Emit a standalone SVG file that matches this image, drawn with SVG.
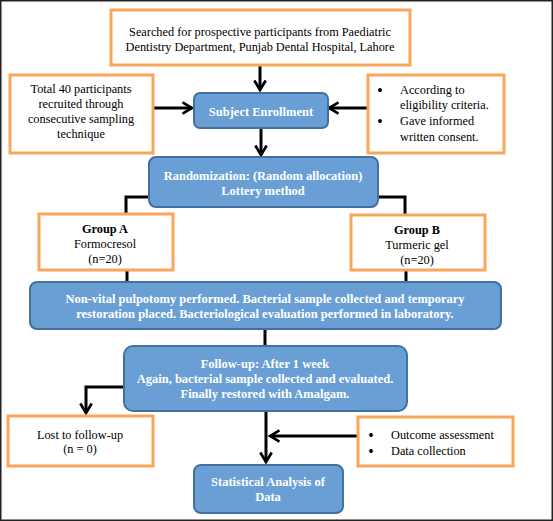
<svg xmlns="http://www.w3.org/2000/svg" width="553" height="521" viewBox="0 0 553 521">
<defs>
<marker id="ah" viewBox="0 0 10 10" refX="8.5" refY="5" markerWidth="4.5" markerHeight="4.5" orient="auto" markerUnits="strokeWidth">
<polyline points="1.5,0.8 8.5,5 1.5,9.2" fill="none" stroke="#000" stroke-width="2"/>
</marker>
<style>
.ob{fill:#fff;stroke:#F9A65A;stroke-width:3}
.bb{fill:#6A9FD6;stroke:#41719C;stroke-width:2}
text{font-family:'Liberation Serif','Times New Roman',Times,'DejaVu Serif',serif}
.t{font-size:12.3px;fill:#000;text-anchor:middle}
.tl{font-size:12.3px;fill:#000}
.bu{font-size:14px;font-weight:bold;fill:#000;text-anchor:middle}
.w{font-size:12.5px;font-weight:bold;fill:#fff;text-anchor:middle}
.c{fill:none;stroke:#000;stroke-width:3}
</style>
</defs>
<rect x="0.75" y="0.75" width="551.5" height="519.5" fill="#fff" stroke="#222" stroke-width="1.5"/>
<g id="connectors">
<line class="c" x1="260" y1="65" x2="260" y2="90" marker-end="url(#ah)"/>
<line class="c" x1="153" y1="108" x2="192" y2="108" marker-end="url(#ah)"/>
<line class="c" x1="368" y1="108" x2="329" y2="108" marker-end="url(#ah)"/>
<line class="c" x1="261" y1="128" x2="261" y2="155" marker-end="url(#ah)"/>
<polyline class="c" points="148,197 126,197 126,214"/>
<polyline class="c" points="378,197 405,197 405,215"/>
<line class="c" x1="127" y1="270" x2="127" y2="282"/>
<line class="c" x1="406" y1="270" x2="406" y2="282"/>
<line class="c" x1="265" y1="329" x2="265" y2="346"/>
<polyline class="c" points="124,387 86,387 86,413" marker-end="url(#ah)"/>
<line class="c" x1="266" y1="411" x2="266" y2="462" marker-end="url(#ah)"/>
<line class="c" x1="358" y1="436" x2="270" y2="436" marker-end="url(#ah)"/>
</g>
<g id="search">
<rect class="ob" x="111" y="10" width="299" height="55"/>
<text class="t" x="260" y="36">Searched for prospective participants from Paediatric</text>
<text class="t" x="260" y="51">Dentistry Department, Punjab Dental Hospital, Lahore</text>
</g>
<g id="total">
<rect class="ob" x="10" y="75" width="143" height="78"/>
<text class="t" x="81" y="93">Total 40 participants</text>
<text class="t" x="81" y="108">recruited through</text>
<text class="t" x="81" y="123">consecutive sampling</text>
<text class="t" x="81" y="138">technique</text>
</g>
<g id="criteria">
<rect class="ob" x="368" y="75" width="136" height="78"/>
<text class="bu" x="380" y="95">•</text>
<text class="tl" x="400" y="94">According to</text>
<text class="tl" x="400" y="109">eligibility criteria.</text>
<text class="bu" x="380" y="126">•</text>
<text class="tl" x="400" y="125">Gave informed</text>
<text class="tl" x="400" y="141">written consent.</text>
</g>
<g id="enroll">
<rect class="bb" x="194" y="93" width="134" height="35" rx="6"/>
<text class="w" x="261" y="116">Subject Enrollment</text>
</g>
<g id="random">
<rect class="bb" x="149" y="157" width="229" height="50" rx="7"/>
<text class="w" x="263" y="180">Randomization: (Random allocation)</text>
<text class="w" x="263" y="195">Lottery method</text>
</g>
<g id="groupA">
<rect class="ob" x="39" y="214" width="134" height="56"/>
<text class="t" x="105" y="233" font-weight="bold">Group A</text>
<text class="t" x="105" y="248">Formocresol</text>
<text class="t" x="105" y="263">(n=20)</text>
</g>
<g id="groupB">
<rect class="ob" x="351" y="215" width="134" height="55"/>
<text class="t" x="417" y="234" font-weight="bold">Group B</text>
<text class="t" x="417" y="249">Turmeric gel</text>
<text class="t" x="417" y="264">(n=20)</text>
</g>
<g id="pulpotomy">
<rect class="bb" x="30" y="282" width="471" height="47" rx="7"/>
<text class="w" x="265" y="303">Non-vital pulpotomy performed. Bacterial sample collected and temporary</text>
<text class="w" x="265" y="318">restoration placed. Bacteriological evaluation performed in laboratory.</text>
</g>
<g id="followup">
<rect class="bb" x="124" y="346" width="283" height="65" rx="9"/>
<text class="w" x="265" y="368">Follow-up: After 1 week</text>
<text class="w" x="265" y="383">Again, bacterial sample collected and evaluated.</text>
<text class="w" x="265" y="398">Finally restored with Amalgam.</text>
</g>
<g id="lost">
<rect class="ob" x="8" y="416" width="145" height="50"/>
<text class="t" x="80" y="439">Lost to follow-up</text>
<text class="t" x="80" y="453">(n = 0)</text>
</g>
<g id="outcome">
<rect class="ob" x="358" y="417" width="155" height="49"/>
<text class="bu" x="371" y="440">•</text>
<text class="tl" x="391" y="439">Outcome assessment</text>
<text class="bu" x="371" y="456">•</text>
<text class="tl" x="391" y="455">Data collection</text>
</g>
<g id="stats">
<rect class="bb" x="194" y="465" width="149" height="48" rx="7"/>
<text class="w" x="268" y="486">Statistical Analysis of</text>
<text class="w" x="268" y="501">Data</text>
</g>
</svg>
